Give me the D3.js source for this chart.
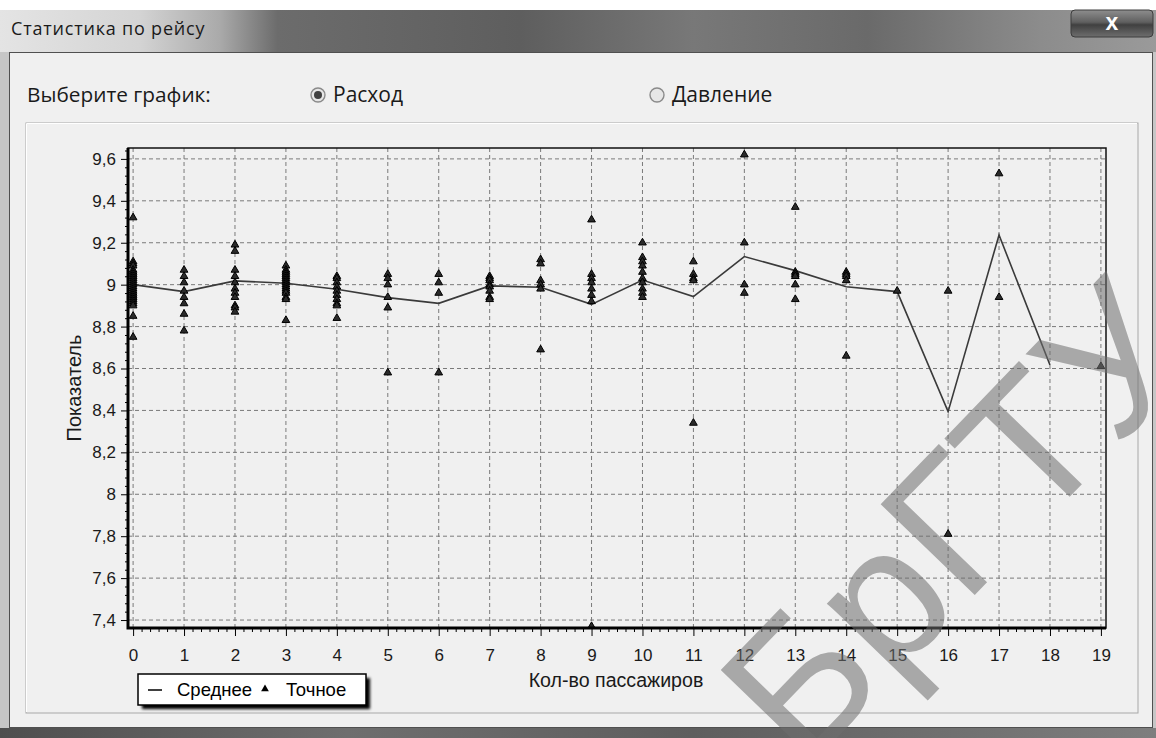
<!DOCTYPE html>
<html>
<head>
<meta charset="utf-8">
<script src="https://cdn.jsdelivr.net/npm/d3@7"></script>
<style>
  body { margin: 0; background: #ffffff; }
  text { font-family: "Liberation Sans", Arial, sans-serif; }
  .ui { font-family: "Open Sans", "Noto Sans", sans-serif; }
</style>
</head>
<body>
<script>
// passenger counts (x axis) and y tick labels
let xTicks = [0, 1, 2, 3, 4, 5, 6, 7, 8, 9, 10, 11, 12, 13, 14, 15, 16, 17, 18, 19]
let yTicks = [7.4, 7.6, 7.8, 8, 8.2, 8.4, 8.6, 8.8, 9, 9.2, 9.4, 9.6]

// "Среднее" line
let meanX = [0, 1, 2, 3, 4, 5, 6, 7, 8, 9, 10, 11, 12, 13, 14, 15, 16, 17, 18]
let meanY = [9.0, 8.967, 9.018, 9.007, 8.978, 8.938, 8.911, 8.994, 8.988, 8.906,
             9.022, 8.943, 9.134, 9.067, 8.99, 8.967, 8.394, 9.237, 8.617]

// "Точное" points, one list per passenger count
let exactValues = [
  [9.32, 9.11, 9.10, 9.09, 9.07, 9.06, 9.05, 9.04, 9.03, 9.02, 9.01, 9.00, 8.99, 8.98, 8.97, 8.96, 8.95, 8.94, 8.93, 8.92, 8.91, 8.90, 8.85, 8.75],
  [9.07, 9.04, 9.01, 8.97, 8.94, 8.91, 8.86, 8.78],
  [9.19, 9.16, 9.07, 9.04, 9.01, 8.98, 8.96, 8.94, 8.90, 8.89, 8.87],
  [9.09, 9.07, 9.06, 9.05, 9.04, 9.03, 9.02, 9.01, 9.00, 8.99, 8.98, 8.97, 8.96, 8.94, 8.93, 8.83],
  [9.04, 9.03, 9.01, 8.99, 8.97, 8.95, 8.93, 8.91, 8.90, 8.84],
  [9.05, 9.03, 9.00, 8.94, 8.89, 8.58],
  [9.05, 9.01, 8.96, 8.58],
  [9.04, 9.03, 9.02, 9.00, 8.99, 8.97, 8.94, 8.93],
  [9.12, 9.10, 9.02, 9.00, 8.98, 8.69],
  [9.31, 9.05, 9.03, 9.01, 8.98, 8.95, 8.92, 7.37],
  [9.20, 9.13, 9.11, 9.09, 9.06, 9.03, 9.01, 8.98, 8.96, 8.94],
  [9.11, 9.05, 9.03, 9.02, 8.34],
  [9.62, 9.20, 9.00, 8.96],
  [9.37, 9.06, 9.05, 9.04, 9.00, 8.93],
  [9.06, 9.05, 9.04, 9.02, 8.66],
  [8.97],
  [8.97, 7.81],
  [9.53, 8.94],
  [],
  [8.61]
]

let points = []
exactValues.forEach((vals, i) => vals.forEach(v => points.push({x: xTicks[i], y: v})))

var W = 1156, H = 738
var margin = {top: 148, left: 128}
var width = 978, height = 480

var svg = d3.select("body").append("svg")
    .attr("width", W)
    .attr("height", H)

var defs = svg.append("defs")
var tg = defs.append("linearGradient").attr("id", "titleGrad")
tg.selectAll("stop")
  .data([[0, "#e4e4e4"], [0.12, "#d4d4d4"], [0.19, "#aaaaaa"], [0.24, "#6c6c6c"],
         [0.45, "#5e5e5e"], [0.6, "#787878"], [0.75, "#6a6a6a"], [0.9, "#8c8c8c"], [1, "#9a9a9a"]])
  .enter().append("stop")
  .attr("offset", d => d[0]).attr("stop-color", d => d[1])
var bg = defs.append("linearGradient").attr("id", "btnGrad").attr("x2", 0).attr("y2", 1)
bg.selectAll("stop")
  .data([[0, "#8e8e8e"], [0.45, "#606060"], [0.55, "#404040"], [1, "#6e6e6e"]])
  .enter().append("stop")
  .attr("offset", d => d[0]).attr("stop-color", d => d[1])
var bot = defs.append("linearGradient").attr("id", "botGrad")
bot.selectAll("stop")
  .data([[0, "#4e4e4e"], [0.3, "#6e6e6e"], [0.6, "#5e5e5e"], [1, "#7e7e7e"]])
  .enter().append("stop")
  .attr("offset", d => d[0]).attr("stop-color", d => d[1])
defs.append("filter").attr("id", "blur").append("feGaussianBlur").attr("stdDeviation", 1.5)
defs.append("clipPath").attr("id", "plotClip").append("rect")
    .attr("width", width).attr("height", height)

// window chrome
svg.append("rect").attr("width", W).attr("height", H).attr("fill", "#ffffff")
svg.append("rect").attr("x", 0).attr("y", 10).attr("width", W).attr("height", H - 10).attr("fill", "#c6c6c6")
svg.append("rect").attr("x", 0).attr("y", 10).attr("width", W).attr("height", 42).attr("fill", "url(#titleGrad)")
svg.append("rect").attr("x", 0).attr("y", 728).attr("width", W).attr("height", 10).attr("fill", "url(#botGrad)")
svg.append("rect")
    .attr("x", 9.5).attr("y", 52.5).attr("width", 1143).attr("height", 675)
    .attr("fill", "#f0f0f0").attr("stroke", "#505050")
svg.append("text").attr("class", "ui")
    .attr("x", 11).attr("y", 35)
    .attr("font-size", 18).attr("letter-spacing", 0.8).attr("fill", "#1a1a1a")
    .text("Статистика по рейсу")
svg.append("rect")
    .attr("x", 1071).attr("y", 10).attr("width", 82).attr("height", 27).attr("rx", 4)
    .attr("fill", "url(#btnGrad)").attr("stroke", "#3c3c3c")
svg.append("text")
    .attr("x", 1112).attr("y", 30).attr("text-anchor", "middle")
    .attr("font-size", 23).attr("font-weight", "bold").attr("fill", "#ffffff")
    .text("x")

// radio buttons
svg.append("text").attr("class", "ui")
    .attr("x", 27).attr("y", 102).attr("font-size", 20.8).attr("fill", "#1a1a1a")
    .text("Выберите график:")
var radios = [{x: 318, label: "Расход", on: true}, {x: 657, label: "Давление", on: false}]
var rg = svg.selectAll("g.radio").data(radios).enter().append("g").attr("class", "radio")
rg.append("circle").attr("cx", d => d.x).attr("cy", 95).attr("r", 7)
    .attr("fill", "#e6e6e6").attr("stroke", "#8a8a8a").attr("stroke-width", 1.4)
rg.filter(d => d.on).append("circle").attr("cx", d => d.x).attr("cy", 95).attr("r", 4).attr("fill", "#404040")
rg.append("text").attr("class", "ui")
    .attr("x", d => d.x + 15).attr("y", 102).attr("font-size", 21).attr("fill", "#1a1a1a")
    .text(d => d.label)

// chart panel
svg.append("rect").attr("x", 26).attr("y", 123).attr("width", 1112).attr("height", 590)
    .attr("fill", "#f0f0f0").attr("stroke", "#a8a8a8")
svg.append("path").attr("d", "M26.5,712V123.5H1137").attr("fill", "none").attr("stroke", "#ffffff")

var g = svg.append("g")
    .attr("id", "plotInner")
    .attr("transform", "translate(" + margin.left + "," + margin.top + ")")

let xScale = d3.scaleLinear().domain([-0.1, 19.1]).range([0, width])
let yScale = d3.scaleLinear().domain([7.362, 9.652]).range([height, 0])

// grid
g.append("g").selectAll("line").data(xTicks).enter().append("line")
    .attr("x1", d => xScale(d)).attr("x2", d => xScale(d))
    .attr("y1", 0).attr("y2", height)
    .attr("stroke", "#7a7a7a").attr("stroke-dasharray", "4,3")
g.append("g").selectAll("line").data(yTicks).enter().append("line")
    .attr("y1", d => yScale(d)).attr("y2", d => yScale(d))
    .attr("x1", 0).attr("x2", width)
    .attr("stroke", "#7a7a7a").attr("stroke-dasharray", "4,3")

// axes
let fmt = d => String(d).replace(".", ",")
let yMinor = d3.range(7.4, 9.64, 0.04).filter(v => Math.abs(v * 5 - Math.round(v * 5)) > 0.01)
let xMinor = d3.range(0, 19.01, 1 / 6).filter(v => Math.abs(v - Math.round(v)) > 0.01)

let yAxis = d3.axisLeft(yScale).tickValues(yTicks).tickFormat(fmt).tickSize(7).tickPadding(5)
let xAxis = d3.axisBottom(xScale).tickValues(xTicks).tickFormat(fmt).tickSize(8).tickPadding(13)

g.append("g").attr("class", "y-axis")
  .call(d3.axisLeft(yScale).tickValues(yMinor).tickSize(3).tickFormat(""))
g.append("g").attr("class", "x-axis")
  .attr("transform", "translate(0," + height + ")")
  .call(d3.axisBottom(xScale).tickValues(xMinor).tickSize(4).tickFormat(""))
g.append("g").attr("class", "y-axis").call(yAxis)
g.append("g").attr("class", "x-axis")
  .attr("transform", "translate(0," + height + ")")
  .call(xAxis)
g.selectAll(".domain").remove()
g.selectAll(".tick line").attr("stroke", "#000")
g.selectAll(".tick text").attr("font-size", 17).attr("fill", "#1a1a1a")
    .attr("font-family", "Liberation Sans, Arial, sans-serif")

// series
let plot = g.append("g").attr("clip-path", "url(#plotClip)")
plot.append("path")
    .datum(meanX.map((x, i) => [x, meanY[i]]))
    .attr("fill", "none")
    .attr("stroke", "#3a3a3a")
    .attr("stroke-width", 1.6)
    .attr("d", d3.line().x(d => xScale(d[0])).y(d => yScale(d[1])))
plot.selectAll("path.pt").data(points).enter().append("path")
    .attr("class", "pt")
    .attr("transform", d => "translate(" + xScale(d.x) + "," + yScale(d.y) + ")")
    .attr("d", d3.symbol(d3.symbolTriangle, 26))
    .attr("fill", "#2a2a2a").attr("stroke", "#000").attr("stroke-width", 1)

// frame
g.append("rect").attr("width", width).attr("height", height)
    .attr("fill", "none").attr("stroke", "#111").attr("stroke-width", 1.5)
g.append("path").attr("d", "M0,0V" + height + "H" + width)
    .attr("fill", "none").attr("stroke", "#000").attr("stroke-width", 3)

// axis titles
svg.append("text")
    .attr("x", 616).attr("y", 687)
    .attr("text-anchor", "middle").attr("font-size", 19.6).attr("fill", "#1a1a1a")
    .text("Кол-во пассажиров")
svg.append("text")
    .attr("transform", "translate(81,388) rotate(-90)")
    .attr("text-anchor", "middle").attr("font-size", 20).attr("fill", "#1a1a1a")
    .text("Показатель")

// legend
var leg = svg.append("g").attr("transform", "translate(138,674)")
leg.append("rect").attr("x", 4).attr("y", 4).attr("width", 228).attr("height", 31)
    .attr("fill", "#000").attr("filter", "url(#blur)")
leg.append("rect").attr("width", 228).attr("height", 31)
    .attr("fill", "#fff").attr("stroke", "#000").attr("stroke-width", 1.5)
leg.append("line").attr("x1", 10).attr("x2", 24).attr("y1", 16).attr("y2", 16)
    .attr("stroke", "#000").attr("stroke-width", 1.5)
leg.append("text").attr("x", 39).attr("y", 22).attr("font-size", 18.5).text("Среднее")
leg.append("path").attr("transform", "translate(127,15)")
    .attr("d", d3.symbol(d3.symbolTriangle, 26)).attr("fill", "#000")
leg.append("text").attr("x", 148).attr("y", 22).attr("font-size", 18.5).text("Точное")

// watermark
svg.append("text")
    .attr("transform", "translate(804,772) rotate(-46)")
    .attr("font-size", 190)
    .attr("fill", "#6e6e6e").attr("opacity", 0.55)
    .text("БрГТУ")
</script>
</body>
</html>
